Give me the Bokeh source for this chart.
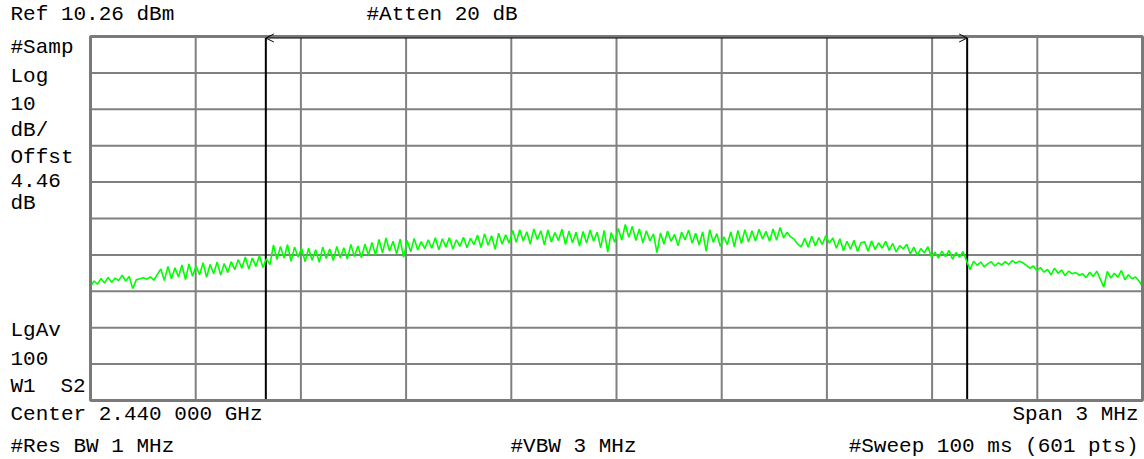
import numpy as np
from bokeh.plotting import figure
from bokeh.models import ColumnDataSource, Label, Arrow, OpenHead, Range1d
from bokeh.embed import file_html
from bokeh.resources import INLINE

# ---------------- data ----------------
center_mhz = 2440.0
span_mhz = 3.0
ref_level = 10.26
db_per_div = 10.0
n_div = 10
marker_freqs = [2439.0, 2441.0]

trace_dbm = [
    -58.4, -56.9, -57.8, -56.2, -57.5, -55.9, -57.3, -56.1, -56.8, -55.3, -56.9, -55.7, -59.0, -56.6, -56.3, -56.0, -56.4, -55.8, -56.7, -55.1,
    -53.6, -56.8, -52.9, -56.3, -53.3, -55.8, -52.5, -56.5, -52.2, -55.6, -52.8, -55.2, -51.9, -55.9, -52.4, -54.9, -51.7, -55.3, -52.1, -54.6,
    -51.6, -53.8, -51.0, -53.4, -50.3, -53.6, -50.6, -52.9, -49.9, -53.2, -50.8, -52.4, -47.0, -51.0, -47.4, -50.6, -46.9, -51.5, -47.6, -50.3,
    -48.0, -51.6, -47.9, -51.2, -48.3, -51.8, -47.6, -50.7, -48.1, -51.3, -47.4, -50.6, -47.8, -50.9, -46.9, -50.2, -47.3, -50.5, -46.8, -49.8,
    -46.3, -49.8, -45.5, -49.2, -45.1, -48.7, -46.0, -49.5, -45.4, -50.4, -45.8, -48.9, -45.2, -48.4, -46.1, -48.0, -45.6, -47.9, -45.0, -48.3,
    -45.3, -47.6, -45.0, -48.1, -45.6, -47.4, -44.9, -47.8, -45.2, -46.9, -44.3, -47.7, -43.9, -47.1, -44.5, -48.2, -43.8, -46.8, -44.2, -46.5,
    -43.0, -46.3, -42.8, -45.9, -43.4, -46.8, -42.6, -45.5, -43.1, -47.0, -42.9, -46.2, -43.6, -45.8, -42.7, -46.9, -43.2, -46.4, -43.5, -47.3,
    -43.3, -46.5, -42.9, -46.0, -43.5, -47.8, -43.0, -49.0, -43.6, -46.3, -42.5, -45.7, -41.4, -44.9, -41.9, -45.8, -42.6, -46.4, -43.1, -45.9,
    -44.0, -49.1, -43.7, -46.8, -43.2, -46.0, -44.1, -47.2, -43.5, -45.6, -42.9, -46.5, -43.8, -47.0, -43.4, -48.8, -42.8, -46.3, -43.9, -47.4,
    -44.8, -46.9, -43.4, -47.5, -43.0, -46.6, -42.8, -46.2, -43.1, -45.9, -42.7, -45.4, -43.3, -46.0, -42.6, -45.7, -42.2, -45.1, -43.5, -44.8,
    -45.4, -46.8, -47.5, -45.2, -47.6, -44.6, -47.3, -45.0, -46.9, -44.4, -46.5, -45.1, -47.9, -45.3, -48.6, -46.0, -48.2, -45.7, -48.8, -46.4,
    -46.1, -48.7, -45.9, -48.3, -46.4, -47.9, -46.0, -48.5, -46.6, -48.9, -47.2, -48.1, -46.8, -49.5, -47.6, -49.8, -48.0, -49.2, -47.5, -50.3,
    -49.0, -50.6, -48.7, -50.2, -48.5, -50.9, -49.1, -50.4, -48.8, -51.4, -53.8, -51.5, -52.6, -51.7, -53.0, -52.2, -51.6, -52.8, -51.9, -52.5,
    -51.6, -52.4, -51.3, -52.0, -51.5, -51.9, -52.6, -53.4, -52.8, -54.1, -53.2, -54.5, -53.7, -55.2, -53.4, -54.8, -53.9, -55.4, -54.2, -54.9,
    -54.6, -55.3, -54.9, -56.0, -54.5, -55.7, -54.2, -56.4, -58.6, -54.3, -56.1, -54.8, -55.9, -54.0, -56.6, -55.2, -56.3, -55.8, -56.9, -58.4,
]

top_left_texts = ["Ref 10.26 dBm"]
top_mid_texts = ["#Atten 20 dB"]
left_col_texts = ["#Samp", "Log", "10", "dB/", "Offst", "4.46", "dB"]
left_low_texts = ["LgAv", "100", "W1"]
left_low_texts2 = ["S2"]
bottom_texts = ["Center 2.440 000 GHz", "Span 3 MHz",
                "#Res BW 1 MHz", "#VBW 3 MHz", "#Sweep 100 ms (601 pts)"]

# ---------------- layout (pixels) ----------------
W, H = 1144, 459
GX0, GX1 = 90, 1142      # graticule left / right
GY0, GY1 = 36, 400       # graticule top / bottom

f_start = center_mhz - span_mhz / 2
f_stop = center_mhz + span_mhz / 2
y_top = ref_level
y_bot = ref_level - db_per_div * n_div
kx = span_mhz / (GX1 - GX0)                 # MHz per pixel
ky = db_per_div * n_div / (GY1 - GY0)       # dB per pixel

p = figure(width=W, height=H, output_backend="svg", toolbar_location=None,
           x_axis_location=None, y_axis_location=None,
           x_range=Range1d(f_start - GX0 * kx, f_stop + (W - GX1) * kx),
           y_range=Range1d(y_bot - (H - GY1) * ky, y_top + GY0 * ky),
           min_border=0, background_fill_color="white",
           border_fill_color="white")
p.outline_line_color = None
p.xgrid.visible = False
p.ygrid.visible = False

# graticule
xt = np.linspace(f_start, f_stop, n_div + 1)[1:-1]
yt = np.linspace(y_bot, y_top, n_div + 1)[1:-1]
p.segment(x0=xt, x1=xt, y0=y_bot, y1=y_top, line_color="#808080", line_width=2)
p.segment(x0=f_start, x1=f_stop, y0=yt, y1=yt, line_color="#808080", line_width=2)

# markers (bandwidth)
p.segment(x0=marker_freqs, x1=marker_freqs, y0=y_bot, y1=y_top,
          line_color="black", line_width=2)
arrow_y = y_top - 1.5 * ky
p.add_layout(Arrow(x_start=marker_freqs[0], y_start=arrow_y,
                   x_end=marker_freqs[1], y_end=arrow_y,
                   start=OpenHead(size=8, line_width=1, line_color="black"),
                   end=OpenHead(size=8, line_width=1, line_color="black"),
                   line_width=1, line_color="black"))

# trace
freqs = np.linspace(f_start, f_stop, len(trace_dbm))
src = ColumnDataSource(dict(f=freqs, v=trace_dbm))
p.line("f", "v", source=src, line_color="#00ff00", line_width=1.6)

# border
p.quad(left=f_start, right=f_stop, bottom=y_bot, top=y_top,
       fill_color=None, line_color="#7a7a7a", line_width=3)

FONT = "Liberation Mono"
FS = "21px"
DY = 7


def lab(txt, px, py, align="left"):
    p.add_layout(Label(x=px, y=H - (py - DY), x_units="screen", y_units="screen",
                       text=txt, text_font=FONT, text_font_size=FS,
                       text_color="black", text_align=align,
                       text_baseline="alphabetic"))


lab(top_left_texts[0], 10, 21)
lab(top_mid_texts[0], 366, 21)
for t, py in zip(left_col_texts, [54, 83, 110, 137, 164, 187, 210]):
    lab(t, 10, py)
for t, py in zip(left_low_texts, [337, 365, 393]):
    lab(t, 10, py)
lab(left_low_texts2[0], 60, 393)
lab(bottom_texts[0], 10, 421)
lab(bottom_texts[1], 1138, 421, "right")
lab(bottom_texts[2], 10, 453)
lab(bottom_texts[3], 510, 453)
lab(bottom_texts[4], 1138, 453, "right")

open("out.html", "w").write(file_html(p, INLINE))
